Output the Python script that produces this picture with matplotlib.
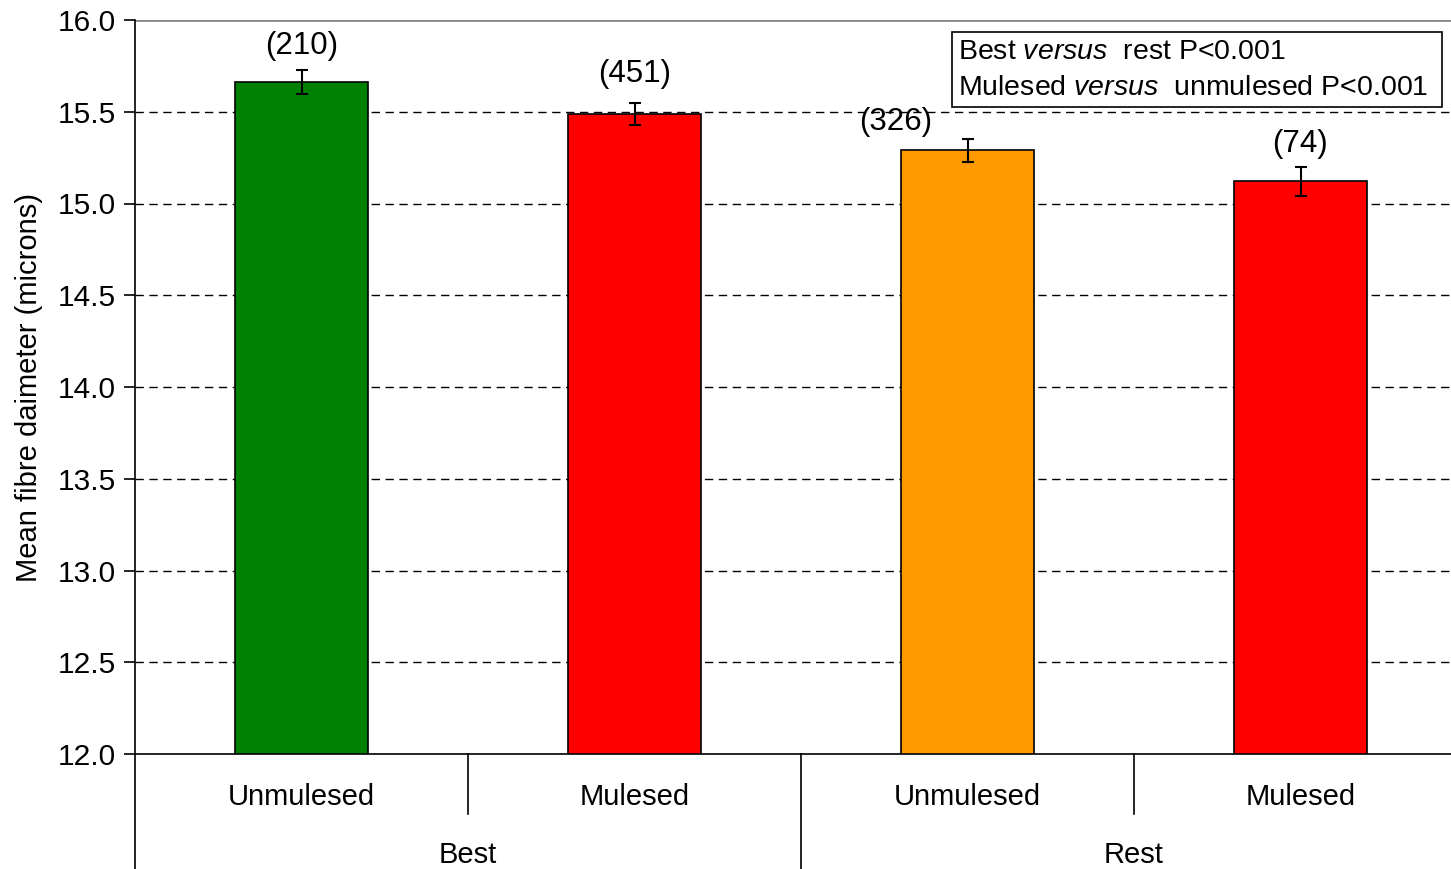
import matplotlib.pyplot as plt
from matplotlib.patches import Rectangle

plt.rcParams['font.family'] = ['Liberation Sans', 'DejaVu Sans']
plt.rcParams['mathtext.fontset'] = 'custom'
plt.rcParams['mathtext.rm'] = 'Liberation Sans'
plt.rcParams['mathtext.it'] = 'Liberation Sans:italic'

groups = ['Best', 'Rest']
labels = ['Unmulesed', 'Mulesed', 'Unmulesed', 'Mulesed']
means = [15.66, 15.49, 15.29, 15.12]
errs = [0.065, 0.06, 0.063, 0.08]
counts = ['(210)', '(451)', '(326)', '(74)']
colors = ['#008000', '#ff0000', '#ff9900', '#ff0000']
notes = ['Best $\\it{versus}$  rest P<0.001', 'Mulesed $\\it{versus}$  unmulesed P<0.001']

fig = plt.figure(figsize=(14.51, 8.69), dpi=100)
ax = fig.add_axes([135/1451, 115/869, 1332/1451, 734/869])

x = list(range(len(means)))
ax.bar(x, [m - 12 for m in means], bottom=12, width=0.4, color=colors,
       edgecolor='black', linewidth=1.2, zorder=3)
ax.errorbar(x, means, yerr=errs, fmt='none', ecolor='black', elinewidth=1.5,
            capsize=4.5, capthick=1.5, zorder=4)

# count labels above the error bars (offsets in points)
dx = [0, 0, -52, 0]
dy = [17.5, 20.5, 12, 16.5]
for i in x:
    ax.annotate(counts[i], (i, means[i] + errs[i]), xytext=(dx[i], dy[i]),
                textcoords='offset points', ha='center', va='center', fontsize=22.5)

ax.set_xlim(-0.5, 3.5)
ax.set_ylim(12, 16)
ax.set_yticks([12, 12.5, 13, 13.5, 14, 14.5, 15, 15.5, 16])
ax.set_yticklabels(['%.1f' % v for v in ax.get_yticks()], fontsize=21.5)
ax.tick_params(axis='y', direction='out', length=8, width=1.2, pad=6)
ax.set_xticks([])
for v in [12.5, 13, 13.5, 14, 14.5, 15, 15.5]:
    ax.axhline(v, color='black', linestyle=(0, (6, 4)), linewidth=1, zorder=1)
ax.axhline(16, color='#888888', linewidth=2, zorder=1)

ax.spines['top'].set_visible(False)
ax.spines['right'].set_visible(False)
ax.spines['left'].set_linewidth(1.2)
ax.spines['bottom'].set_linewidth(1.2)
ax.set_ylabel('Mean fibre daimeter (microns)', fontsize=21, labelpad=10)

# category / group axis below
tr = ax.get_xaxis_transform()
ax.plot([-0.5, -0.5], [0, -0.16], color='black', lw=1.2, transform=tr, clip_on=False)
ax.plot([0.5, 0.5], [0, -0.082], color='black', lw=1.2, transform=tr, clip_on=False)
ax.plot([1.5, 1.5], [0, -0.16], color='black', lw=1.2, transform=tr, clip_on=False)
ax.plot([2.5, 2.5], [0, -0.082], color='black', lw=1.2, transform=tr, clip_on=False)
for i in x:
    ax.text(i, -0.059, labels[i], transform=tr, ha='center', va='center', fontsize=21)
for g, name in enumerate(groups):
    ax.text(g * 2 + 0.5, -0.138, name, transform=tr, ha='center', va='center', fontsize=21)

# significance box
ax.add_patch(Rectangle((0.6134, 0.8815), 0.3678, 0.1022, transform=ax.transAxes,
                       facecolor='white', edgecolor='black', lw=1.2, zorder=5))
for k, line in enumerate(notes):
    ax.text(0.6179, 0.956 - k * 0.049, line, transform=ax.transAxes,
            ha='left', va='center', fontsize=20.5, zorder=6)

fig.savefig('out.png', dpi=100)
